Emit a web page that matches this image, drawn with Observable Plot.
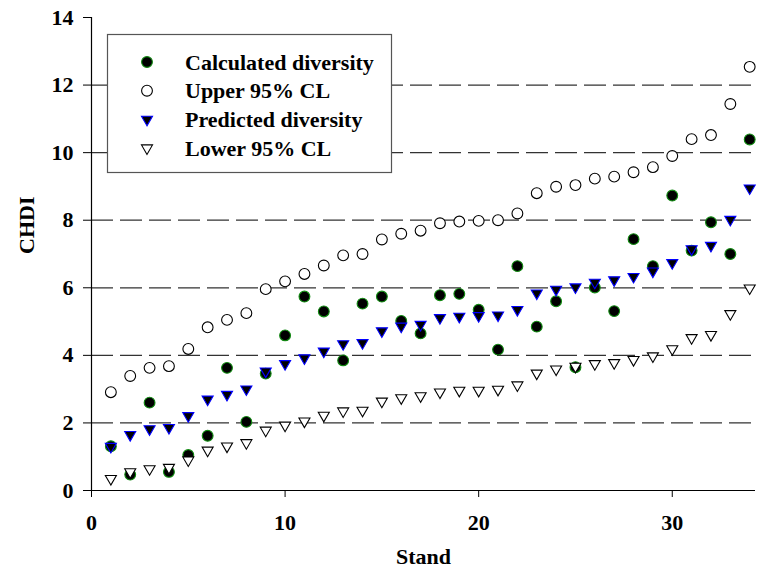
<!DOCTYPE html>
<html>
<head>
<meta charset="utf-8">
<script src="https://cdn.jsdelivr.net/npm/d3@7"></script>
<script src="https://cdn.jsdelivr.net/npm/@observablehq/plot@0.6"></script>
<style>
  html, body { margin: 0; padding: 0; background: #fff; }
  #chart { position: relative; width: 758px; height: 577px; }
</style>
</head>
<body>
<div id="chart"></div>
<script>
const stands = [1,2,3,4,5,6,7,8,9,10,11,12,13,14,15,16,17,18,19,20,21,22,23,24,25,26,27,28,29,30,31,32,33,34];
const calculated = [1.31,0.47,2.6,0.55,1.05,1.62,3.63,2.03,3.46,4.59,5.74,5.3,3.85,5.53,5.74,5.02,4.65,5.78,5.82,5.35,4.17,6.64,4.85,5.6,3.65,6.01,5.31,7.44,6.64,8.73,7.1,7.94,7.0,10.39];
const upper95 = [2.91,3.39,3.63,3.68,4.19,4.83,5.05,5.25,5.96,6.19,6.41,6.66,6.96,7.0,7.43,7.6,7.69,7.91,7.96,7.98,8.0,8.2,8.8,8.99,9.04,9.23,9.29,9.42,9.57,9.9,10.4,10.52,11.44,12.54];
const predicted = [1.3,1.65,1.82,1.86,2.21,2.7,2.84,3.0,3.53,3.75,3.92,4.12,4.34,4.37,4.72,4.86,4.91,5.11,5.15,5.17,5.19,5.35,5.84,5.95,6.02,6.16,6.23,6.33,6.49,6.74,7.15,7.25,8.02,8.95];
const lower95 = [0.35,0.55,0.64,0.68,0.9,1.19,1.31,1.41,1.78,1.93,2.05,2.22,2.35,2.37,2.64,2.74,2.8,2.91,2.96,2.96,2.99,3.12,3.47,3.59,3.67,3.75,3.78,3.87,3.98,4.19,4.52,4.61,5.23,5.99];
const yTicks = [0,2,4,6,8,10,12,14];
const xTicks = [0,10,20,30];
const gridLines = [2,4,6,8,10,12];
const seriesNames = ["Calculated diversity","Upper 95% CL","Predicted diversity","Lower 95% CL"];

const rows = (vals) => stands.map((s, i) => ({stand: s, value: vals[i]}));

const font = "'Liberation Serif', 'Times New Roman', serif";

const chart = Plot.plot({
  width: 758,
  height: 577,
  marginLeft: 91,
  marginRight: 3,
  marginTop: 17,
  marginBottom: 87,
  style: {fontFamily: font, fontSize: "21px", fontWeight: "bold", color: "#000", background: "#fff"},
  x: {domain: [0, 34.3]},
  y: {domain: [0, 14]},
  marks: [
    Plot.ruleY(gridLines, {stroke: "#333", strokeWidth: 1.2, strokeDasharray: "22,7"}),
    Plot.ruleX([0], {stroke: "#000", strokeWidth: 1.2}),
    Plot.ruleY([0], {stroke: "#000", strokeWidth: 1.2}),
    Plot.axisY({ticks: yTicks, tickSize: 8, tickPadding: 10, label: null, fontSize: 22}),
    Plot.axisX({ticks: xTicks, tickSize: 7, tickPadding: 17, label: null, fontSize: 22}),
    Plot.dot(rows(calculated), {x: "stand", y: "value", r: 5.4, fill: "#000", stroke: "#118a11", strokeWidth: 1.1}),
    Plot.dot(rows(upper95), {x: "stand", y: "value", r: 5.4, fill: "#fff", stroke: "#000", strokeWidth: 1.1}),
    Plot.dot(rows(predicted), {x: "stand", y: "value", symbol: "triangle", r: 4.1, rotate: 180, fill: "#000", stroke: "#0000ff", strokeWidth: 1.1}),
    Plot.dot(rows(lower95), {x: "stand", y: "value", symbol: "triangle", r: 4.1, rotate: 180, fill: "#fff", stroke: "#000", strokeWidth: 1.1}),
    Plot.text(["Stand"], {frameAnchor: "bottom", dy: 73, fontSize: 22, fontWeight: "bold", fill: "#000"}),
    Plot.text(["CHDI"], {frameAnchor: "left", dx: -65, rotate: -90, fontSize: 22, fontWeight: "bold", fill: "#000"})
  ]
});

document.getElementById("chart").appendChild(chart);

// Legend drawn inside the SVG
const svg = d3.select(chart);
const lg = svg.append("g").attr("class", "legend");
lg.append("rect").attr("x", 107.5).attr("y", 34.5).attr("width", 284).attr("height", 138)
  .attr("fill", "#fff").attr("stroke", "#555").attr("stroke-width", 1.2);
const legendStyles = [
  {sym: d3.symbolCircle, r: 5.4, fill: "#000", stroke: "#118a11", rot: 0},
  {sym: d3.symbolCircle, r: 5.4, fill: "#fff", stroke: "#000", rot: 0},
  {sym: d3.symbolTriangle, r: 4.1, fill: "#000", stroke: "#0000ff", rot: 180},
  {sym: d3.symbolTriangle, r: 4.1, fill: "#fff", stroke: "#000", rot: 180}
];
seriesNames.forEach((name, i) => {
  const yy = 62 + i * 28.7;
  const st = legendStyles[i];
  lg.append("path")
    .attr("d", d3.symbol(st.sym, Math.PI * st.r * st.r)())
    .attr("transform", `translate(147,${yy}) rotate(${st.rot})`)
    .attr("fill", st.fill).attr("stroke", st.stroke).attr("stroke-width", 1.1);
  lg.append("text").attr("x", 185).attr("y", yy).attr("dy", "0.35em")
    .attr("text-anchor", "start")
    .attr("font-family", font).attr("font-size", 22).attr("font-weight", "bold")
    .attr("fill", "#000").text(name);
});
</script>
</body>
</html>
